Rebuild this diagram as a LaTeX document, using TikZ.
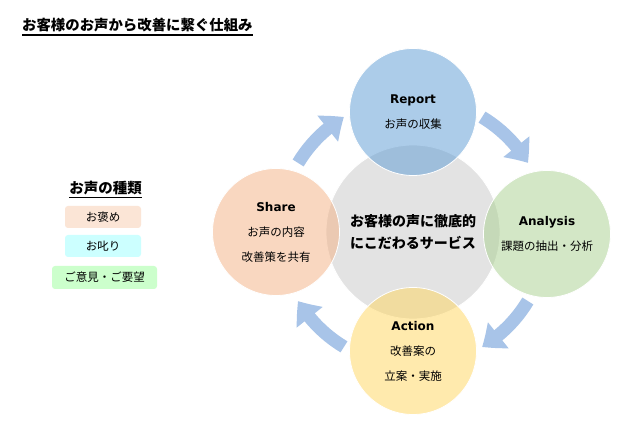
\documentclass[tikz,border=0pt]{standalone}
\usepackage{fontspec}
\setmainfont{Noto Sans CJK JP}
\newfontfamily\latfont{DejaVu Sans}
\usetikzlibrary{arrows.meta,bending,calc}
\definecolor{cgray}{RGB}{200,200,200}
\definecolor{cblue}{RGB}{91,155,213}
\definecolor{cgreen}{RGB}{169,209,142}
\definecolor{corange}{RGB}{244,177,131}
\definecolor{cyellow}{RGB}{255,214,92}
\definecolor{carrow}{RGB}{168,196,232}
\definecolor{lpeach}{RGB}{251,229,214}
\definecolor{lcyan}{RGB}{204,255,255}
\definecolor{lgreen}{RGB}{204,255,204}
\newcommand\circhead[1]{{\latfont\bfseries\fontsize{12}{25}\selectfont #1}}
\tikzset{
  disc/.style={circle, minimum size=127pt, inner sep=0pt, draw=white, line width=0.8pt,
    fill=#1, fill opacity=0.5, text opacity=1, align=center,
    font=\fontsize{11.5}{25}\selectfont},
  flow/.style={carrow, line width=13pt, -{Triangle[length=20pt,width=32pt,bend]}},
  legbox/.style={rounded corners=3pt, fill=#1, minimum height=22pt, inner sep=0pt,
    font=\fontsize{11.5}{13}\selectfont}
}
\begin{document}
\begin{tikzpicture}[x=1pt,y=1pt]
\useasboundingbox[fill=white] (0,0) rectangle (627,436);

% title
\node[anchor=base west, inner sep=0pt, font=\fontsize{14.4}{16}\selectfont\bfseries] (title) at (22,405) {お客様のお声から改善に繋ぐ仕組み};
\draw[line width=1.2pt] ($(title.base west)+(0,-4)$) -- ($(title.base east)+(0,-4)$);

% legend
\node[anchor=base, inner sep=0pt, font=\fontsize{14.5}{16}\selectfont\bfseries] (leg) at (105.5,242) {お声の種類};
\draw[line width=1.2pt] ($(leg.base west)+(0,-3.5)$) -- ($(leg.base east)+(0,-3.5)$);
\node[legbox=lpeach, minimum width=76pt] (praise) at (103,219) {お褒め};
\node[legbox=lcyan, minimum width=76pt] (scold) at (103,190) {お叱り};
\node[legbox=lgreen, minimum width=105pt, minimum height=23pt] (opinion) at (104.5,158.5) {ご意見・ご要望};

% centre reference
\coordinate (ctr) at (413,204);
\coordinate (a1) at ($(ctr)+(149:134)$);
\coordinate (a2) at ($(ctr)+(59:134)$);
\coordinate (a3) at ($(ctr)+(-31:134)$);
\coordinate (a4) at ($(ctr)+(-121:134)$);

% arrows
\draw[flow] (a1) arc[start angle=149, end angle=121, radius=134];
\draw[flow] (a2) arc[start angle=59, end angle=31, radius=134];
\draw[flow] (a3) arc[start angle=-31, end angle=-59, radius=134];
\draw[flow] (a4) arc[start angle=-121, end angle=-149, radius=134];

% circles
\node[disc=cgray, minimum size=174pt, font=\fontsize{14}{22}\selectfont\bfseries] (core) at (ctr) {お客様の声に徹底的\\にこだわるサービス};
\node[disc=cblue] (report) at (413,324) {\circhead{Report}\\お声の収集};
\node[disc=cgreen] (analysis) at (547,202) {\circhead{Analysis}\\課題の抽出・分析};
\node[disc=cyellow] (action) at (413,85) {\circhead{Action}\\改善案の\\立案・実施};
\node[disc=corange] (share) at (276,204) {\circhead{Share}\\お声の内容\\改善策を共有};
\end{tikzpicture}
\end{document}
